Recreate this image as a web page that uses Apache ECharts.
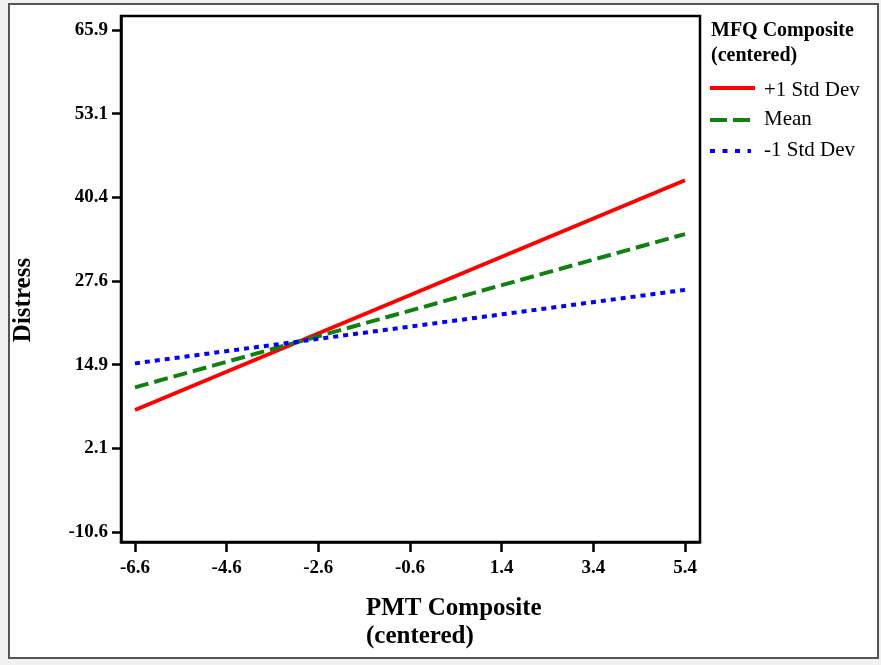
<!DOCTYPE html>
<html><head><meta charset="utf-8">
<script src="https://cdn.jsdelivr.net/npm/echarts@6/dist/echarts.min.js"></script>
<style>html,body{margin:0;padding:0;background:#f0f0f0;}#c{width:881px;height:665px;}</style>
</head><body><div id="c"></div>
<script>
// Data
const xValues = [-6.6, 5.4];
const plusOneSD = [7.99, 43.0];
const meanVals = [11.45, 34.8];
const minusOneSD = [15.1, 26.3];
const seriesNames = ['+1 Std Dev', 'Mean', '-1 Std Dev'];
const xTickValues = [-6.6, -4.6, -2.6, -0.6, 1.4, 3.4, 5.4];
const xTickLabels = ['-6.6', '-4.6', '-2.6', '-0.6', '1.4', '3.4', '5.4'];
const yTickValues = [-10.6, 2.15, 14.9, 27.65, 40.4, 53.15, 65.9];
const yTickLabels = ['-10.6', '2.1', '14.9', '27.6', '40.4', '53.1', '65.9'];
const xTitle = 'PMT Composite\n(centered)';
const yTitle = 'Distress';
const legendTitle = 'MFQ Composite\n(centered)';

const FONT = '"Liberation Serif", "Times New Roman", serif';
const chart = echarts.init(document.getElementById('c'));
function lbl(vals, labs) {
  return function (v) {
    for (let i = 0; i < vals.length; i++) if (Math.abs(vals[i] - v) < 1e-6) return labs[i];
    return '';
  };
}
function pairs(ys) { return xValues.map((x, i) => [x, ys[i]]); }

chart.setOption({
  animation: false,
  backgroundColor: 'transparent',
  grid: { left: 121, top: 16, right: 181, bottom: 123, show: true, backgroundColor: '#fff', borderColor: '#000', borderWidth: 2.5 },
  xAxis: {
    type: 'value', min: -6.905, max: 5.727,
    axisLine: { show: true, onZero: false, lineStyle: { color: '#000', width: 2.5 } },
    axisTick: { show: true, length: 10, lineStyle: { color: '#000', width: 2.5 }, customValues: xTickValues },
    axisLabel: { customValues: xTickValues, formatter: lbl(xTickValues, xTickLabels), fontFamily: FONT, fontWeight: 'bold', fontSize: 19, color: '#000', margin: 17 },
    splitLine: { show: false }
  },
  yAxis: {
    type: 'value', min: -12.12, max: 68.03,
    axisLine: { show: true, onZero: false, lineStyle: { color: '#000', width: 2.5 } },
    axisTick: { show: true, length: 9, lineStyle: { color: '#000', width: 2.5 }, customValues: yTickValues },
    axisLabel: { customValues: yTickValues, formatter: lbl(yTickValues, yTickLabels), fontFamily: FONT, fontWeight: 'bold', fontSize: 19, color: '#000', margin: 13 },
    splitLine: { show: false }
  },
  series: [
    { name: seriesNames[0], type: 'line', data: pairs(plusOneSD), symbol: 'none', lineStyle: { color: '#ff0000', width: 4, type: 'solid' } },
    { name: seriesNames[1], type: 'line', data: pairs(meanVals), symbol: 'none', lineStyle: { color: '#108010', width: 4, type: [14, 6] } },
    { name: seriesNames[2], type: 'line', data: pairs(minusOneSD), symbol: 'none', lineStyle: { color: '#0000ff', width: 4, type: [5, 5] } }
  ],
  graphic: [
    { type: 'rect', z: -10, shape: { x: 9, y: 4, width: 869, height: 654 }, style: { fill: '#fff', stroke: '#555', lineWidth: 2 } },
    { type: 'text', x: 24, y: 300, rotation: Math.PI / 2, style: { text: yTitle, font: 'bold 25px ' + FONT, fill: '#000', align: 'center', verticalAlign: 'middle' } },
    { type: 'text', left: 366, top: 595, style: { text: xTitle, font: 'bold 25px ' + FONT, fill: '#000', lineHeight: 28 } },
    { type: 'text', left: 711, top: 18, style: { text: legendTitle, font: 'bold 20px ' + FONT, fill: '#000', lineHeight: 25 } },
    { type: 'line', shape: { x1: 710, y1: 88, x2: 755, y2: 88 }, style: { stroke: '#ff0000', lineWidth: 4 } },
    { type: 'line', shape: { x1: 710, y1: 120, x2: 751, y2: 120 }, style: { stroke: '#108010', lineWidth: 4, lineDash: [17, 6] } },
    { type: 'line', shape: { x1: 710, y1: 151, x2: 751, y2: 151 }, style: { stroke: '#0000ff', lineWidth: 4, lineDash: [5, 7.5] } },
    { type: 'text', left: 764, top: 80, style: { text: seriesNames[0], font: '21px ' + FONT, fill: '#000' } },
    { type: 'text', left: 764, top: 109, style: { text: seriesNames[1], font: '21px ' + FONT, fill: '#000' } },
    { type: 'text', left: 764, top: 140, style: { text: seriesNames[2], font: '21px ' + FONT, fill: '#000' } }
  ]
});
</script></body></html>
